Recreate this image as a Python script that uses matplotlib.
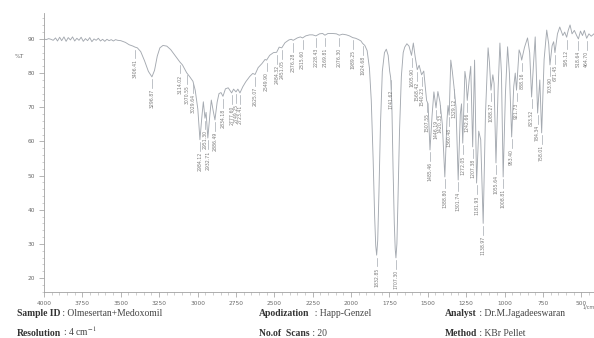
import matplotlib
matplotlib.use('Agg')
import matplotlib.pyplot as plt
from matplotlib.ticker import MultipleLocator

plt.rcParams['mathtext.fontset'] = 'stix'

# FTIR spectrum, KBr pellet (wavenumber in 1/cm, transmittance in %T)
wavenumber = [
    4000, 3985, 3970, 3955, 3940, 3925, 3912, 3898, 3885, 3870,
    3856, 3842, 3828, 3814, 3800, 3786, 3772, 3758, 3744, 3730,
    3716, 3702, 3688, 3674, 3660, 3646, 3632, 3618, 3604, 3590,
    3576, 3562, 3548, 3534, 3520, 3500, 3470, 3445, 3420, 3406.41,
    3392, 3370, 3345, 3320, 3296.87, 3280, 3262, 3245, 3225, 3200,
    3175, 3150, 3130, 3114.02, 3098, 3085, 3070.55, 3050, 3029.64, 3015,
    2998, 2984.12, 2972, 2962, 2951.30, 2944, 2932.71, 2920, 2910, 2898,
    2886.49, 2872, 2860, 2847, 2834.18, 2818, 2800, 2777.60, 2765, 2749.25,
    2737, 2723.41, 2705, 2685, 2660, 2640, 2625.07, 2605, 2580, 2560,
    2549.90, 2530, 2505, 2484.32, 2468, 2451.05, 2430, 2405, 2390, 2376.28,
    2350, 2330, 2315.60, 2295, 2270, 2250, 2228.43, 2205, 2185, 2169.81,
    2150, 2120, 2095, 2076.30, 2055, 2030, 2010, 1989.25, 1970, 1950,
    1935, 1924.68, 1910, 1895, 1880, 1868, 1856, 1846, 1839, 1832.85,
    1826, 1818, 1808, 1796, 1782, 1770, 1758, 1748, 1741.62, 1734,
    1726, 1718, 1712, 1707.30, 1701, 1694, 1684, 1672, 1660, 1650,
    1636, 1622, 1605.90, 1594, 1582, 1568.42, 1556, 1540.23, 1526, 1507.55,
    1498, 1485.46, 1472, 1460, 1446.19, 1434, 1420.33, 1405, 1388.80, 1375,
    1368, 1360.48, 1350, 1340, 1329.12, 1316, 1301.74, 1288, 1280, 1272.05,
    1258, 1250, 1242.66, 1230, 1220, 1207.38, 1195, 1181.93, 1168, 1155,
    1138.97, 1124, 1107, 1098, 1088.27, 1076, 1068, 1055.64, 1042, 1030,
    1020, 1008.81, 994, 980, 968, 953.40, 940, 930, 921.73, 905,
    895, 888.16, 870, 850, 836, 823.52, 812, 800, 784.34, 770,
    758.01, 742, 725, 712, 703.90, 690, 680, 671.45, 655, 640,
    620, 608, 595.12, 585, 573, 560, 545, 530, 518.64, 505,
    492, 480, 464.70, 450, 435, 417,
]
transmittance = [
    90.0, 89.8, 90.1, 89.9, 89.6, 90.3, 89.4, 90.5, 89.5, 90.6,
    89.3, 90.4, 89.7, 90.6, 89.4, 90.2, 89.6, 90.5, 89.3, 90.1,
    89.5, 90.4, 89.2, 90.0, 89.6, 90.2, 89.4, 89.9, 89.3, 89.9,
    89.5, 89.8, 89.4, 89.8, 89.6, 89.5, 89.0, 88.3, 87.9, 87.6,
    87.4, 86.3, 83.6, 80.5, 78.9, 80.8, 85.0, 87.4, 88.1, 87.9,
    86.9, 85.4, 84.2, 83.2, 82.4, 81.3, 80.1, 78.9, 77.6, 75.0,
    69.5, 60.5, 67.0, 71.6, 66.8, 68.5, 61.0, 67.5, 72.1, 69.0,
    66.3, 71.5, 74.0, 74.3, 73.2, 75.4, 75.7, 74.2, 75.3, 74.5,
    75.3, 74.2, 76.0, 77.5, 79.0, 79.9, 79.6, 81.6, 82.8, 84.0,
    83.8, 85.2, 86.0, 86.1, 87.6, 87.4, 88.9, 89.7, 89.9, 89.6,
    90.3, 90.6, 90.3, 90.9, 91.2, 91.2, 90.9, 91.5, 91.6, 91.1,
    91.6, 91.6, 91.5, 91.1, 91.4, 91.2, 90.9, 90.4, 90.2, 89.8,
    89.4, 88.7, 88.1, 86.6, 81.5, 72.0, 55.0, 38.0, 29.5, 26.7,
    31.0, 45.0, 65.0, 80.5, 86.0, 87.0, 85.2, 80.5, 78.7, 71.0,
    52.0, 36.0, 28.5, 25.9, 30.0, 43.0, 63.0, 79.0, 86.0, 87.6,
    88.6, 87.9, 85.2, 88.8, 84.8, 81.0, 82.3, 79.5, 80.6, 72.0,
    71.0, 57.5, 67.5, 74.5, 69.8, 74.6, 71.5, 65.0, 49.6, 66.0,
    70.5, 67.7, 83.8, 80.5, 76.0, 70.0, 48.7, 68.0, 71.0, 59.5,
    80.5, 78.0, 72.0, 78.0, 82.0, 58.4, 83.8, 47.8, 63.0, 60.5,
    36.0, 68.0, 87.4, 83.0, 75.0, 79.5, 77.0, 53.7, 75.0, 88.8,
    80.0, 49.6, 74.0, 87.7, 80.0, 61.3, 76.0, 80.0, 75.0, 86.8,
    85.5, 83.8, 87.5, 90.3, 86.0, 73.0, 82.0, 90.6, 68.3, 78.0,
    62.5, 84.0, 92.6, 88.5, 82.4, 88.0, 89.2, 86.0, 91.5, 93.5,
    91.0, 92.0, 90.5, 92.5, 94.1, 91.5, 92.5, 91.0, 90.0, 92.3,
    91.0, 92.5, 90.2, 91.5, 90.8, 91.5,
]

# peaks picked by the instrument software
peak_labels = [
    3406.41, 3296.87, 3114.02, 3070.55, 3029.64, 2984.12, 2951.30, 2932.71,
    2886.49, 2834.18, 2777.60, 2749.25, 2723.41, 2625.07, 2549.90, 2484.32,
    2451.05, 2376.28, 2315.60, 2228.43, 2169.81, 2076.30, 1989.25, 1924.68,
    1832.85, 1741.62, 1707.30, 1605.90, 1568.42, 1540.23, 1507.55, 1485.46,
    1446.19, 1420.33, 1388.80, 1360.48, 1329.12, 1301.74, 1272.05, 1242.66,
    1207.38, 1181.93, 1138.97, 1088.27, 1055.64, 1008.81, 953.40, 921.73,
    888.16, 823.52, 784.34, 758.01, 703.90, 671.45, 595.12, 518.64, 464.70,
]

info_left = [('Sample ID', ' : Olmesertan+Medoxomil'), ('Resolution', ' : 4 cm$^{-1}$')]
info_mid = [('Apodization', '  : Happ-Genzel'), ('No.of  Scans', ' : 20')]
info_right = [('Analyst', ' : Dr.M.Jagadeeswaran'), ('Method', ' : KBr Pellet')]

line_color = '#a4a9b0'
text_gray = '#6a6a6a'

fig = plt.figure(figsize=(5.94, 3.38), dpi=100)
ax = fig.add_axes([44 / 594, 46 / 338, 550 / 594, 279 / 338])

ax.plot(wavenumber, transmittance, color=line_color, lw=0.65)

# peak markers: short drop line + rotated wavenumber
for wn in peak_labels:
    t = transmittance[wavenumber.index(wn)]
    ax.plot([wn, wn], [t - 0.7, t - 3.3], color=line_color, lw=0.5)
    ax.text(wn, t - 3.6, f'{wn:.2f}', rotation=90, ha='center', va='top',
            fontsize=3.3, color='#7a7a7a')

ax.set_xlim(4000, 417)
ax.set_ylim(15.9, 97.6)

ax.xaxis.set_major_locator(MultipleLocator(250))
ax.xaxis.set_minor_locator(MultipleLocator(50))
ax.yaxis.set_major_locator(MultipleLocator(10))
ax.yaxis.set_minor_locator(MultipleLocator(2))

ax.tick_params(which='major', length=3.5, width=0.5, colors='#999999',
               labelcolor=text_gray, labelsize=4.2, pad=3)
ax.tick_params(which='minor', length=1.8, width=0.4, colors='#aaaaaa')

for side in ['top', 'right']:
    ax.spines[side].set_visible(False)
for side in ['left', 'bottom']:
    ax.spines[side].set_color('#a0a0a0')
    ax.spines[side].set_linewidth(0.6)

ax.text(-0.045, 85, '%T', transform=ax.get_yaxis_transform(), ha='center', va='center',
        fontsize=4.3, color=text_gray)
fig.text(589 / 594, (338 - 307) / 338, '1/cm', ha='center', va='center',
         fontsize=3.5, color=text_gray)

# acquisition details under the plot
rows_y = [(338 - 316) / 338, (338 - 336) / 338]
for x0, col in [(17 / 594, info_left), (259 / 594, info_mid), (445 / 594, info_right)]:
    for y0, (name, value) in zip(rows_y, col):
        lbl = fig.text(x0, y0, name, fontsize=6.9, fontweight='bold',
                       family='Liberation Serif', color='#333333', va='baseline')
        ax.annotate(value, xy=(1, 0), xycoords=lbl, va='bottom', ha='left',
                    fontsize=6.9, family='Liberation Serif', color='#444444',
                    annotation_clip=False)

fig.savefig('out.png', dpi=100, facecolor='white')
